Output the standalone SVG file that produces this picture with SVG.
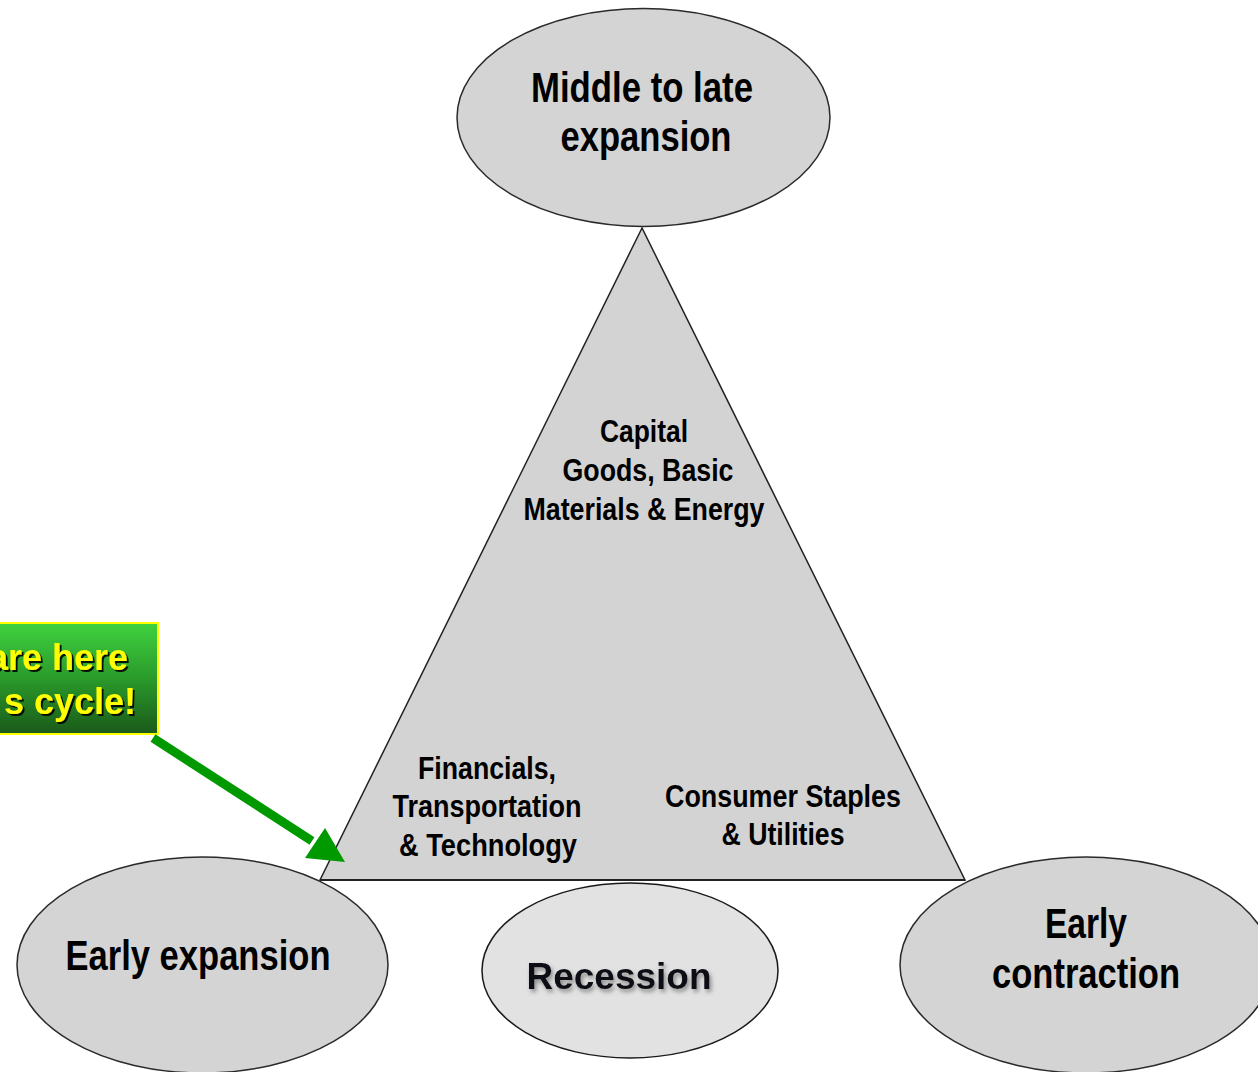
<svg xmlns="http://www.w3.org/2000/svg" width="1258" height="1072" viewBox="0 0 1258 1072">
<defs>
<style>
.node{fill:#d4d4d4;stroke:#2a2a2a;stroke-width:1.5}
.t{font-family:"Liberation Sans Narrow","Liberation Sans",Arial,sans-serif;font-weight:bold;fill:#000;text-anchor:middle}
.big{font-size:42px}
.mid{font-size:31px}
.call{font-family:"Liberation Sans",Arial,sans-serif;font-weight:bold;font-size:36px;fill:#ffff00;text-anchor:end}
</style>
<linearGradient id="gbox" x1="0" y1="0" x2="0" y2="1">
<stop offset="0" stop-color="#3fd23f"/>
<stop offset="0.5" stop-color="#2a9a2a"/>
<stop offset="1" stop-color="#1a5a1a"/>
</linearGradient>
<filter id="sh" x="-10%" y="-20%" width="130%" height="150%">
<feDropShadow dx="2" dy="2" stdDeviation="0.6" flood-color="#000" flood-opacity="0.9"/>
</filter>
<filter id="sh2" x="-10%" y="-20%" width="130%" height="160%">
<feDropShadow dx="2" dy="3" stdDeviation="2" flood-color="#666" flood-opacity="0.7"/>
</filter>
<marker id="ah" viewBox="0 0 10 10" refX="9" refY="5" markerWidth="4.2" markerHeight="4.2" orient="auto" markerUnits="strokeWidth">
<path d="M0,0 L10,5 L0,10 z" fill="#009900"/>
</marker>
</defs>
<rect width="1258" height="1072" fill="#fff"/>

<g id="triangle">
<polygon points="642,228 320,880 965,880" fill="#d3d3d3" stroke="#222" stroke-width="1.5"/>
<line x1="320" y1="880" x2="965" y2="880" stroke="#222" stroke-width="2"/>
<text class="t mid" x="644" y="442" textLength="88" lengthAdjust="spacingAndGlyphs">Capital</text>
<text class="t mid" x="648" y="481" textLength="171" lengthAdjust="spacingAndGlyphs">Goods, Basic</text>
<text class="t mid" x="644" y="520" textLength="241" lengthAdjust="spacingAndGlyphs">Materials &amp; Energy</text>
<text class="t mid" x="487" y="779" textLength="138" lengthAdjust="spacingAndGlyphs">Financials,</text>
<text class="t mid" x="487" y="817" textLength="189" lengthAdjust="spacingAndGlyphs">Transportation</text>
<text class="t mid" x="488" y="856" textLength="178" lengthAdjust="spacingAndGlyphs">&amp; Technology</text>
<text class="t mid" x="783" y="807" textLength="236" lengthAdjust="spacingAndGlyphs">Consumer Staples</text>
<text class="t mid" x="783" y="845" textLength="123" lengthAdjust="spacingAndGlyphs">&amp; Utilities</text>
</g>

<g id="node-middle-late">
<ellipse class="node" cx="643.5" cy="117.5" rx="186.5" ry="109"/>
<text class="t big" x="642" y="102" textLength="222" lengthAdjust="spacingAndGlyphs">Middle to late</text>
<text class="t big" x="646" y="151" textLength="171" lengthAdjust="spacingAndGlyphs">expansion</text>
</g>

<g id="node-early-expansion">
<ellipse class="node" cx="202.5" cy="965" rx="185.5" ry="108"/>
<text class="t big" x="198" y="970" textLength="265" lengthAdjust="spacingAndGlyphs">Early expansion</text>
</g>

<g id="node-recession">
<ellipse cx="630" cy="970.5" rx="148" ry="87.5" fill="#e2e2e2" stroke="#1a1a1a" stroke-width="1.5"/>
<text x="619" y="989" font-family="'Liberation Sans',Arial,sans-serif" font-weight="bold" font-size="37" fill="#0b1018" text-anchor="middle" filter="url(#sh2)">Recession</text>
</g>

<g id="node-early-contraction">
<ellipse class="node" cx="1086" cy="965" rx="186" ry="108"/>
<text class="t big" x="1086" y="938" textLength="82" lengthAdjust="spacingAndGlyphs">Early</text>
<text class="t big" x="1086" y="988" textLength="188" lengthAdjust="spacingAndGlyphs">contraction</text>
</g>

<g id="callout">
<rect x="-5" y="623" width="163" height="111" fill="url(#gbox)" stroke="#ffff00" stroke-width="2"/>
<text class="call" x="128" y="670" filter="url(#sh)">are here</text>
<text class="call" x="136" y="714" filter="url(#sh)">s cycle!</text>
</g>

<g id="connectors">
<line x1="153" y1="738" x2="312" y2="841" stroke="#009900" stroke-width="9"/>
<polygon points="345,862 305,858 325,828" fill="#009900"/>
</g>
</svg>
